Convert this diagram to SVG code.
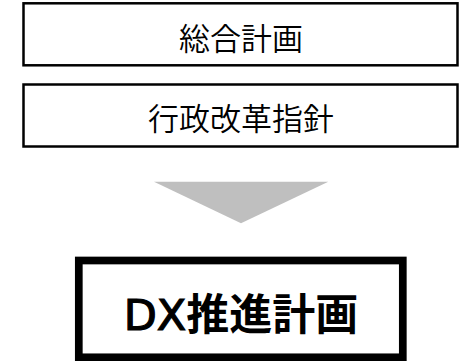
<svg xmlns="http://www.w3.org/2000/svg" width="472" height="361" viewBox="0 0 472 361">
<style>
.box{fill:#fff;stroke:#000;stroke-width:2.5}
.big{fill:#fff;stroke:#000;stroke-width:7.7}
.t{font-family:"Noto Sans CJK JP","Noto Sans",sans-serif;font-size:31px;font-weight:350;fill:#000;text-anchor:middle}
.tb{font-family:"Noto Sans CJK JP","Noto Sans",sans-serif;font-size:43px;font-weight:600;fill:#000;text-anchor:middle}
.lat{font-family:"DejaVu Sans",sans-serif;font-weight:normal;stroke:#000;stroke-width:1.2}
</style>
<rect width="472" height="361" fill="#fff"/>
<g id="sogo">
<rect class="box" x="23.5" y="3.3" width="434" height="62"/>
<text class="t" x="241" y="50">総合計画</text>
</g>
<g id="gyosei">
<rect class="box" x="23.5" y="84.5" width="434" height="62"/>
<text class="t" x="241" y="130">行政改革指針</text>
</g>
<g id="connectors">
<polygon points="154,181.7 328.3,181.7 241,223.3" fill="#bfbfbf"/>
</g>
<g id="dx">
<rect class="big" x="78.8" y="260.5" width="324" height="96.8"/>
<text class="tb" x="241" y="330"><tspan class="lat">DX</tspan>推進計画</text>
</g>
</svg>
